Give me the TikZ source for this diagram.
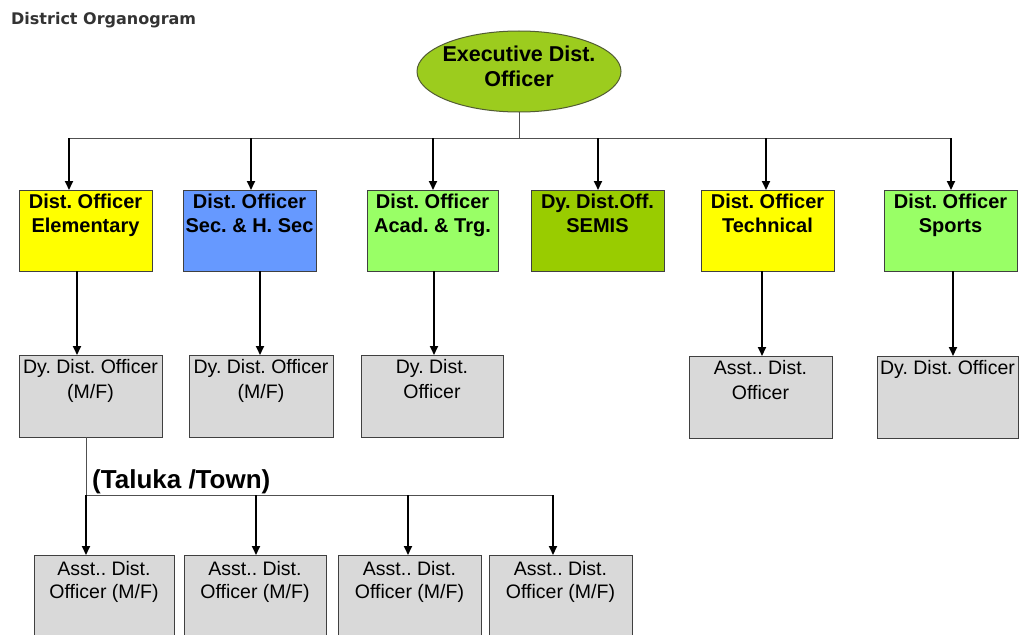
\documentclass[tikz,border=0pt]{standalone}
\usepackage{fontspec}
\setmainfont{Liberation Sans}
\newfontfamily\titlefont{DejaVu Sans}
\usetikzlibrary{shapes.geometric,arrows.meta}
\frenchspacing
\definecolor{boxline}{HTML}{404040}
\definecolor{linegray}{HTML}{505050}
\definecolor{cyel}{HTML}{FFFF00}
\definecolor{cblue}{HTML}{6699FF}
\definecolor{cgreen}{HTML}{99FF66}
\definecolor{colive}{HTML}{99CC00}
\definecolor{cell}{HTML}{9CCC1E}
\definecolor{cgray}{HTML}{D9D9D9}
\definecolor{ctitle}{HTML}{333333}
\begin{document}
\begin{tikzpicture}[x=1pt,y=-1pt,
  obox/.style={draw=boxline, line width=1pt, inner sep=0pt, outer sep=0pt},
  toplab/.style={label={[anchor=north, align=center, inner sep=0pt, yshift=-3.6pt,
      font=\fontsize{20}{24}\selectfont\bfseries]north:#1}},
  graylab/.style={label={[anchor=north, align=center, inner sep=0pt, yshift=-3.8pt,
      font=\fontsize{19.5}{25}\selectfont]north:#1}},
  lowlab/.style={label={[anchor=north, align=center, inner sep=0pt, yshift=-5.8pt,
      font=\fontsize{19.5}{23}\selectfont]north:#1}},
  thinline/.style={draw=linegray, line width=1pt},
  arr/.style={draw=black, line width=1.8pt, -{Triangle[length=9pt,width=8pt]}}
]
\useasboundingbox[fill=white] (0,0) rectangle (1019,634);

% title
\node[anchor=base west, inner sep=0pt, text=ctitle,
      font=\titlefont\fontsize{16}{19}\selectfont\bfseries] (title) at (11,25) {District Organogram};

% executive ellipse
\node[ellipse, draw=boxline!80!colive, line width=1pt, fill=cell, minimum width=204pt,
      minimum height=81pt, inner sep=0pt, outer sep=0pt,
      label={[anchor=center, align=center, inner sep=0pt, yshift=4.8pt,
      font=\fontsize{21.5}{25}\selectfont\bfseries]center:Executive Dist.\\Officer}]
      (exec) at (519,71.5) {};

% row 1
\node[obox, fill=cyel,   minimum width=133pt, minimum height=81pt, toplab={Dist. Officer\\Elementary}]   (d1) at (85.5,230.5) {};
\node[obox, fill=cblue,  minimum width=133pt, minimum height=81pt, toplab={Dist. Officer\\Sec. \& H. Sec}] (d2) at (249.5,230.5) {};
\node[obox, fill=cgreen, minimum width=131pt, minimum height=81pt, toplab={Dist. Officer\\Acad. \& Trg.}] (d3) at (432.5,230.5) {};
\node[obox, fill=colive, minimum width=133pt, minimum height=81pt, toplab={Dy. Dist.Off.\\SEMIS}]          (d4) at (597.5,230.5) {};
\node[obox, fill=cyel,   minimum width=133pt, minimum height=81pt, toplab={Dist. Officer\\Technical}]    (d5) at (767.5,230.5) {};
\node[obox, fill=cgreen, minimum width=133pt, minimum height=81pt, toplab={Dist. Officer\\Sports}]       (d6) at (950.5,230.5) {};

% row 2
\node[obox, fill=cgray, minimum width=143pt, minimum height=82pt, graylab={Dy. Dist. Officer\\(M/F)}] (r1) at (90.5,396) {};
\node[obox, fill=cgray, minimum width=144pt, minimum height=82pt, graylab={Dy. Dist. Officer\\(M/F)}] (r2) at (261,396) {};
\node[obox, fill=cgray, minimum width=142pt, minimum height=82pt, graylab={Dy. Dist.\\Officer}]       (r3) at (432,396) {};
\node[obox, fill=cgray, minimum width=143pt, minimum height=82pt, graylab={Asst.. Dist.\\Officer}]    (r4) at (760.5,397) {};
\node[obox, fill=cgray, minimum width=141pt, minimum height=82pt, graylab={Dy. Dist. Officer}]       (r5) at (947.5,397) {};

% row 3
\node[obox, fill=cgray, minimum width=140pt, minimum height=90pt, lowlab={Asst.. Dist.\\Officer (M/F)}] (t1) at (104,600) {};
\node[obox, fill=cgray, minimum width=142pt, minimum height=90pt, lowlab={Asst.. Dist.\\Officer (M/F)}] (t2) at (255,600) {};
\node[obox, fill=cgray, minimum width=143pt, minimum height=90pt, lowlab={Asst.. Dist.\\Officer (M/F)}] (t3) at (409.5,600) {};
\node[obox, fill=cgray, minimum width=143pt, minimum height=90pt, lowlab={Asst.. Dist.\\Officer (M/F)}] (t4) at (560.5,600) {};

% taluka label
\node[anchor=base west, inner sep=0pt, font=\fontsize{26}{30}\selectfont\bfseries] (taluka) at (92,488) {(Taluka /Town)};

% top bus
\coordinate (bus) at (519,138);
\coordinate (k1) at (69,138);
\coordinate (k2) at (251,138);
\coordinate (k3) at (433,138);
\coordinate (k4) at (598,138);
\coordinate (k5) at (766,138);
\coordinate (k6) at (951,138);
\draw[thinline] (exec.south) -- (bus);
\draw[thinline] (k1) -- (k6);
\foreach \i in {1,...,6} {\draw[arr] (k\i) -- (k\i |- d\i.north);}

% row 1 -> row 2
\coordinate (v1) at (77,0);
\coordinate (v2) at (260,0);
\coordinate (v3) at (434,0);
\coordinate (v5) at (762,0);
\coordinate (v6) at (953,0);
\draw[arr] (d1.south -| v1) -- (v1 |- r1.north);
\draw[arr] (d2.south -| v2) -- (v2 |- r2.north);
\draw[arr] (d3.south -| v3) -- (v3 |- r3.north);
\draw[arr] (d5.south -| v5) -- (v5 |- r4.north);
\draw[arr] (d6.south -| v6) -- (v6 |- r5.north);

% taluka bus
\coordinate (w1) at (86,495);
\coordinate (w2) at (256,495);
\coordinate (w3) at (408,495);
\coordinate (w4) at (553,495);
\draw[thinline] (r1.south -| w1) -- (w1) -- (w4);
\foreach \i in {1,...,4} {\draw[arr] (w\i) -- (w\i |- t\i.north);}
\end{tikzpicture}
\end{document}
